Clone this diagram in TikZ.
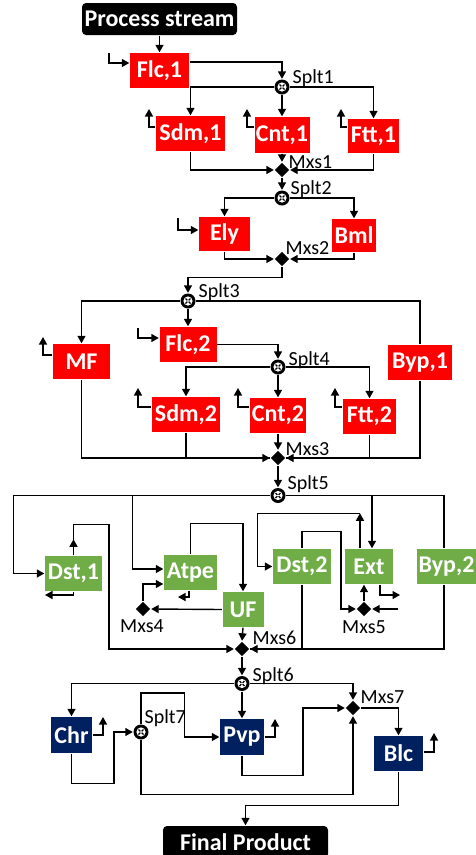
\documentclass[tikz,border=0pt]{standalone}
\usepackage{fontspec}
\setmainfont{Carlito}
\usetikzlibrary{arrows.meta,shapes.geometric,calc}
\definecolor{cRed}{HTML}{FF0000}
\definecolor{cGreen}{HTML}{70AD47}
\definecolor{cNavy}{HTML}{002060}
\begin{document}
\begin{tikzpicture}[x=1pt,y=-1pt,
  line width=1.4pt,
  arr/.style={-{Triangle[length=7.5pt,width=8pt]}},
  unitbox/.style={inner sep=0pt, text=white, font=\fontsize{24}{24}\selectfont\bfseries},
  redbox/.style={unitbox, fill=cRed},
  greenbox/.style={unitbox, fill=cGreen},
  navybox/.style={unitbox, fill=cNavy},
  endbox/.style={unitbox, fill=black, rounded corners=4pt},
  splitter/.style={circle, fill=black, minimum size=15pt, inner sep=0pt,
    path picture={
      \fill[white] (path picture bounding box.center) circle (4.6pt);
      \draw[black, line width=1.2pt] ($(path picture bounding box.center)+(-2.5,-2.5)$) -- ++(5,5);
      \draw[black, line width=1.2pt] ($(path picture bounding box.center)+(-2.5,2.5)$) -- ++(5,-5);
      \fill[white] (path picture bounding box.center) circle (1.2pt);
    }},
  mixer/.style={diamond, fill=black, minimum width=15pt, minimum height=15pt, inner sep=0pt},
  lbl/.style={font=\fontsize{20}{20}\selectfont, inner sep=0pt, anchor=west}
]
\useasboundingbox (0,0) rectangle (476,855);

% ---------- nodes ----------
\node[endbox, minimum width=155pt, minimum height=32pt] (ps) at (159.5,19) {Process stream};
\node[redbox, minimum width=59pt, minimum height=35pt] (flc1) at (159.5,70.5) {Flc,1};
\node[splitter] (splt1) at (282,87) {};
\node[redbox, minimum width=69pt, minimum height=35pt] (sdm1) at (190.5,133.5) {Sdm,1};
\node[redbox, minimum width=55pt, minimum height=36pt] (cnt1) at (282,135) {Cnt,1};
\node[redbox, minimum width=51pt, minimum height=34pt] (ftt1) at (373.5,136) {Ftt,1};
\node[mixer] (mxs1) at (282,170) {};
\node[splitter] (splt2) at (282,198) {};
\node[redbox, minimum width=51pt, minimum height=34pt] (ely) at (224.5,234) {Ely};
\node[redbox, minimum width=44pt, minimum height=33pt] (bml) at (354,235.5) {Bml};
\node[mixer] (mxs2) at (282,259) {};
\node[splitter] (splt3) at (188,301) {};
\node[redbox, minimum width=57pt, minimum height=35pt] (mf) at (81.5,361.5) {MF};
\node[redbox, minimum width=57pt, minimum height=35pt] (flc2) at (188,344.5) {Flc,2};
\node[redbox, minimum width=64pt, minimum height=35pt] (byp1) at (420,362.5) {Byp,1};
\node[splitter] (splt4) at (278,367) {};
\node[redbox, minimum width=68pt, minimum height=35pt] (sdm2) at (186,414.5) {Sdm,2};
\node[redbox, minimum width=56pt, minimum height=35pt] (cnt2) at (278,415.5) {Cnt,2};
\node[redbox, minimum width=53pt, minimum height=35pt] (ftt2) at (369.5,416.5) {Ftt,2};
\node[mixer] (mxs3) at (278,458) {};
\node[splitter] (splt5) at (278,495.5) {};
\node[greenbox, minimum width=57pt, minimum height=35pt] (dst1) at (73.5,573.5) {Dst,1};
\node[greenbox, minimum width=53pt, minimum height=35pt] (atpe) at (190.5,572.5) {Atpe};
\node[greenbox, minimum width=41pt, minimum height=35pt] (uf) at (243,609.5) {UF};
\node[greenbox, minimum width=58pt, minimum height=35pt] (dst2) at (302,566.5) {Dst,2};
\node[greenbox, minimum width=48pt, minimum height=35pt] (ext) at (369,566.5) {Ext};
\node[greenbox, minimum width=59pt, minimum height=35pt] (byp2) at (446.5,566.5) {Byp,2};
\node[mixer] (mxs4) at (143,609) {};
\node[mixer] (mxs5) at (364,609) {};
\node[mixer] (mxs6) at (242,649) {};
\node[splitter] (splt6) at (242,683.5) {};
\node[navybox, minimum width=41pt, minimum height=36pt] (chr) at (71.5,735) {Chr};
\node[splitter] (splt7) at (141,732) {};
\node[navybox, minimum width=44pt, minimum height=36pt] (pvp) at (242,737) {Pvp};
\node[mixer] (mxs7) at (353,708) {};
\node[navybox, minimum width=49pt, minimum height=35pt] (blc) at (398.5,753.5) {Blc};
\node[endbox, minimum width=165pt, minimum height=32pt] (fp) at (245.5,842) {Final Product};

% ---------- labels ----------
\node[lbl] (lsp1) at ($(splt1)+(10,-9)$) {Splt1};
\node[lbl] (lsp2) at ($(splt2)+(8,-9)$) {Splt2};
\node[lbl] (lsp3) at ($(splt3)+(10,-9)$) {Splt3};
\node[lbl] (lsp4) at ($(splt4)+(10,-7)$) {Splt4};
\node[lbl] (lsp5) at ($(splt5)+(9,-11)$) {Splt5};
\node[lbl] (lsp6) at ($(splt6)+(10,-7)$) {Splt6};
\node[lbl] (lsp7) at ($(splt7)+(3,-14)$) {Splt7};
\node[lbl] (lmx1) at ($(mxs1)+(6,-8)$) {Mxs1};
\node[lbl] (lmx2) at ($(mxs2)+(3,-11)$) {Mxs2};
\node[lbl] (lmx3) at ($(mxs3)+(7,-9)$) {Mxs3};
\node[lbl, anchor=center] (lmx4) at ($(mxs4)+(-1,17)$) {Mxs4};
\node[lbl, anchor=center] (lmx5) at ($(mxs5)+(0,18)$) {Mxs5};
\node[lbl] (lmx6) at ($(mxs6)+(10,-11)$) {Mxs6};
\node[lbl] (lmx7) at ($(mxs7)+(7,-11)$) {Mxs7};

% ---------- free ends ----------
\coordinate (flc1in) at (109,53);
\coordinate (sdm1out) at (149,109);
\coordinate (cnt1out) at (247,109);
\coordinate (ftt1out) at (341,109);
\coordinate (elyin) at (178,218);
\coordinate (mfout) at (43,337);
\coordinate (flc2in) at (138,328);
\coordinate (sdm2out) at (138,388);
\coordinate (cnt2out) at (238,388);
\coordinate (ftt2out) at (335,388);
\coordinate (dst1out) at (45,595);
\coordinate (atpeout) at (178,597);
\coordinate (extout) at (400,595);
\coordinate (mxs5in) at (398,609);
\coordinate (chrout) at (103,717);
\coordinate (pvpout) at (275,719);
\coordinate (blcout) at (434,733);

% ---------- connectors: stage 1 ----------
\draw[arr] (ps.south) -- (flc1.north);
\draw[arr] (flc1in) |- ([yshift=7.5pt]flc1.west);
\draw[arr] ([yshift=8.5pt]flc1.east) -| (splt1.north);
\draw[arr] (splt1.west) -| (sdm1.north);
\draw[arr] (splt1.south) -- (cnt1.north);
\draw[arr] (splt1.east) -| (ftt1.north);
\draw[arr] ([yshift=6.5pt]sdm1.west) -| (sdm1out);
\draw[arr] ([yshift=8pt]cnt1.west) -| (cnt1out);
\draw[arr] ([yshift=9pt]ftt1.west) -| (ftt1out);
\draw[arr] (sdm1.south) |- (mxs1.west);
\draw[arr] (ftt1.south) |- (mxs1.east);
\draw[arr] (cnt1.south) -- (mxs1.north);
\draw[arr] (mxs1.south) -- (splt2.north);

% ---------- stage 2 ----------
\draw[arr] (splt2.west) -| (ely.north);
\draw[arr] (splt2.east) -| (bml.north);
\draw[arr] (elyin) |- ([yshift=4pt]ely.west);
\draw[arr] (ely.south) |- (mxs2.west);
\draw[arr] (bml.south) |- (mxs2.east);
\draw[arr] (mxs2.south) -- ++(0,10) -| (splt3.north);

% ---------- stage 3 ----------
\draw[arr] (splt3.west) -| (mf.north);
\draw (splt3.east) -| (byp1.north);
\draw[arr] (splt3.south) -- (flc2.north);
\draw[arr] ([yshift=6.5pt]mf.west) -| (mfout);
\draw[arr] (flc2in) |- ([yshift=6.5pt]flc2.west);
\draw[arr] (flc2.east) -| (splt4.north);
\draw[arr] (splt4.west) -| (sdm2.north);
\draw[arr] (splt4.south) -- (cnt2.north);
\draw[arr] (splt4.east) -| (ftt2.north);
\draw[arr] ([yshift=7.5pt]sdm2.west) -| (sdm2out);
\draw[arr] ([yshift=8.5pt]cnt2.west) -| (cnt2out);
\draw[arr] ([yshift=9.5pt]ftt2.west) -| (ftt2out);
\draw[arr] (mf.south) |- (mxs3.west);
\draw (sdm2.south) |- (mxs3.west);
\draw[arr] (byp1.south) |- (mxs3.east);
\draw (ftt2.south) |- (mxs3.east);
\draw[arr] (cnt2.south) -- (mxs3.north);
\draw[arr] (mxs3.south) -- (splt5.north);

% ---------- stage 4 ----------
\draw[arr] (splt5.west) -| ($(dst1.west)+(-31,0)$) -- (dst1.west);
\draw[arr] (splt5.west) -| ($(atpe.west)+(-31,-3.5)$) -- ([yshift=3.5pt]atpe.west);
\draw[arr] (splt5.east) -| ([xshift=3pt]ext.north);
\draw (splt5.east) -| ([xshift=-2.5pt]byp2.north);
\draw[arr] ([xshift=-2.5pt]byp2.south) |- (mxs6.east);
\draw (dst2.south) |- (mxs6.east);
\draw[arr] (dst1.north) -- ++(0,-16);
\draw[arr] (dst1.north) -- ++(0,-31) -- ++(35.5,0) |- (mxs6.west);
\draw[arr] (dst1.south) |- (dst1out);
\draw[arr] (atpe.north) -- ++(0,-31) -| (uf.north);
\draw[arr] ([xshift=-1.5pt]atpe.south) |- (atpeout);
\draw[arr] (mxs4.north) |- ([yshift=-11.5pt]atpe.west);
\draw[arr] (uf.west) -- (mxs4.east);
\draw[arr] (uf.south) -- (mxs6.north);
\draw[arr] ([xshift=-9pt]ext.north) -- ++(0,-35);
\draw[arr] ($(ext.north)+(-9,-35)$) -| ($(dst2.west)+(-15,0)$) -- (dst2.west);
\draw[arr] (dst2.north) -- ++(0,-17) -| ($(mxs5.west)+(-15,0)$) -- (mxs5.west);
\draw[arr] ([xshift=11pt]ext.south) |- (extout);
\draw[arr] (mxs5.north) -- (mxs5.north |- ext.south);
\draw[arr] (mxs5in) -- (mxs5.east);
\draw[arr] (mxs6.south) -- (splt6.north);

% ---------- stage 5 ----------
\draw[arr] (splt6.west) -| (chr.north);
\draw[arr] (splt6.south) -- (pvp.north);
\draw[arr] (splt6.east) -| (mxs7.north);
\draw[arr] (chr.east) -| (chrout);
\draw[arr] (chr.south) -- ++(0,30) -| ($(splt7.west)+(-19,0)$) -- (splt7.west);
\draw[arr] (splt7.north) -- ++(0,-31) -| ($(pvp.west)+(-35,0)$) -- (pvp.west);
\draw[arr] (splt7.south) -- ++(0,54) -| (mxs7.south);
\draw[arr] (pvp.east) -| (pvpout);
\draw[arr] (pvp.south) -- ++(0,20) -| ($(mxs7.west)+(-42,0)$) -- (mxs7.west);
\draw[arr] (mxs7.east) -| (blc.north);
\draw[arr] ([yshift=1.5pt]blc.east) -| (blcout);
\draw[arr] (blc.south) -- ++(0,34) -| (fp.north);
\end{tikzpicture}
\end{document}
